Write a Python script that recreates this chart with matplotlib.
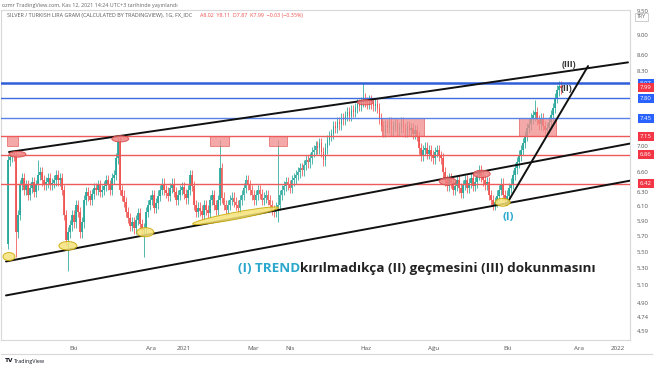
import matplotlib
matplotlib.use("Agg")
import matplotlib.pyplot as plt
import numpy as np
from matplotlib.patches import Rectangle, Ellipse
import matplotlib.transforms as mtransforms
from matplotlib.ticker import NullLocator

# ---------------- data (daily-ish bars, SILVER/TRY gram) ----------------
closes = [
    6.77, 6.82, 6.85, 6.84, 5.75, 5.98, 6.40, 6.50, 6.33, 6.40,
    6.26, 6.36, 6.44, 6.30, 6.40, 6.55, 6.59, 6.47, 6.40, 6.44,
    6.50, 6.40, 6.43, 6.47, 6.55, 6.47, 6.50, 6.33, 5.98, 5.65,
    5.75, 5.84, 5.98, 5.88, 6.12, 6.02, 5.75, 5.88, 6.19, 6.30,
    6.25, 6.19, 6.27, 6.36, 6.33, 6.40, 6.30, 6.33, 6.39, 6.47,
    6.40, 6.33, 6.50, 6.55, 6.80, 7.06, 6.33, 6.25, 6.16, 6.02,
    5.94, 5.83, 5.88, 5.80, 5.91, 6.00, 5.86, 5.78, 5.80, 6.02,
    6.12, 6.19, 6.26, 6.08, 6.14, 6.25, 6.33, 6.42, 6.33, 6.29,
    6.25, 6.36, 6.42, 6.30, 6.19, 6.26, 6.33, 6.37, 6.27, 6.21,
    6.33, 6.55, 6.39, 6.12, 6.02, 6.08, 6.04, 5.98, 6.12, 6.05,
    6.01, 6.19, 6.26, 6.12, 6.05, 6.19, 6.65, 6.22, 6.12, 6.05,
    6.12, 6.19, 6.22, 6.16, 6.12, 6.08, 6.19, 6.26, 6.36, 6.47,
    6.40, 6.33, 6.26, 6.19, 6.26, 6.33, 6.27, 6.19, 6.22, 6.26,
    6.19, 6.12, 6.05, 6.02, 6.08, 6.12, 6.26, 6.33, 6.39, 6.44,
    6.40, 6.36, 6.47, 6.50, 6.55, 6.59, 6.65, 6.62, 6.70, 6.77,
    6.74, 6.80, 6.90, 6.93, 6.99, 6.96, 7.04, 6.90, 6.77, 6.96,
    7.09, 7.16, 7.19, 7.32, 7.29, 7.39, 7.35, 7.45, 7.42, 7.49,
    7.56, 7.49, 7.59, 7.56, 7.63, 7.70, 7.66, 7.73, 7.80, 7.73,
    7.70, 7.76, 7.71, 7.66, 7.70, 7.63, 7.45, 7.32, 7.22, 7.34,
    7.29, 7.39, 7.25, 7.32, 7.35, 7.25, 7.30, 7.39, 7.29, 7.22,
    7.32, 7.25, 7.29, 7.19, 7.25, 7.16, 6.96, 6.85, 6.93, 6.97,
    6.87, 6.93, 6.85, 6.80, 6.90, 6.93, 6.84, 6.80, 6.59, 6.47,
    6.39, 6.50, 6.43, 6.33, 6.39, 6.47, 6.36, 6.29, 6.40, 6.47,
    6.36, 6.43, 6.50, 6.39, 6.44, 6.55, 6.62, 6.53, 6.47, 6.40,
    6.44, 6.26, 6.19, 6.12, 6.16, 6.25, 6.33, 6.42, 6.26, 6.19,
    6.25, 6.36, 6.42, 6.55, 6.65, 6.74, 6.85, 6.93, 7.04, 7.16,
    7.29, 7.35, 7.45, 7.50, 7.56, 7.42, 7.35, 7.45, 7.32, 7.25,
    7.29, 7.39, 7.50, 7.63, 7.80, 7.94, 8.02, 7.99,
]
first_open = 5.60
spike_highs = {3: 6.93, 15: 6.77, 55: 7.13, 106: 7.09, 135: 7.09,
               178: 8.07, 264: 7.76, 277: 8.11}
spike_lows = {4: 5.43, 30: 5.27, 68: 5.43, 135: 5.88, 277: 7.87}

# x tick labels (bar index positions) -- Turkish month abbreviations
tick_pos = [33, 71.5, 88, 123, 141.5, 179, 213, 250, 286, 305.5]
tick_lbl = ["Eki", "Ara", "2021", "Mar", "Nis", "Haz", "Ağu", "Eki", "Ara", "2022"]

# right price scale
price_ticks = [9.50, 9.00, 8.60, 8.30, 7.00, 6.60, 6.30, 6.10, 5.90, 5.70,
               5.50, 5.30, 5.10, 4.90, 4.74, 4.59]
blue_levels = [8.07, 7.80, 7.45]
red_levels = [7.15, 6.86, 6.42]
last_price = 7.99

# drawings (bar index, price)
trend_lines = [
    [(0.5, 6.90), (310.5, 8.46)],     # upper channel
    [(-1.0, 5.38), (312.5, 7.04)],    # middle channel
    [(-1.0, 4.98), (312.5, 6.47)],    # lower channel
    [(249.5, 6.12), (290.5, 8.39)],   # steep trend (I) -> (III)
]
zones = [(-0.5, 5.0, 7.00, 7.15), (101.0, 110.5, 7.00, 7.15),
         (130.5, 139.5, 7.00, 7.15), (187.5, 208.5, 7.15, 7.45),
         (256.0, 274.5, 7.15, 7.45)]
red_marks = [(0.5, 9.0, 6.82, 6.91), (52.0, 60.5, 7.06, 7.16),
             (175.0, 183.0, 7.68, 7.77), (216.0, 224.5, 6.40, 6.51),
             (233.0, 241.5, 6.51, 6.62)]
yellow_marks = [(-2.5, 3.5, 5.39, 5.49), (25.5, 34.5, 5.52, 5.63),
                (64.5, 73.0, 5.69, 5.81), (244.0, 251.5, 6.10, 6.21)]
yellow_tilted = [(92.5, 5.86), (135.5, 6.08)]

# ---------------- figure ----------------
W, H = 654, 366
fig = plt.figure(figsize=(W / 100, H / 100), dpi=100)
fig.patch.set_facecolor("white")
ax = fig.add_axes([1 / W, (H - 340) / H, 629 / W, 330 / H])
ax.set_yscale("log")
ax.set_ylim(4.50, 9.53)
ax.set_xlim(-3.5, 311.5)

GREEN = "#26a69a"
RED = "#ef5350"

n = len(closes)
idx = np.arange(n)
opens = [first_open] + closes[:-1]
o = np.array(opens)
c = np.array(closes)
hi = np.maximum(o, c) * 1.012
lo = np.minimum(o, c) * 0.988
for k, v in spike_highs.items():
    hi[k] = v
for k, v in spike_lows.items():
    lo[k] = v
cols = np.where(c >= o, GREEN, RED)
ax.vlines(idx, lo, hi, colors=cols, linewidth=0.7, alpha=0.8, zorder=2)
body_lo = np.minimum(o, c)
body_h = np.maximum(np.abs(c - o), 0.006)
ax.bar(idx, body_h, bottom=body_lo, width=0.85, color=cols, alpha=0.9,
       linewidth=0, zorder=2)

# horizontal levels
ax.axhline(blue_levels[0], color="#2f5fd8", lw=1.8, zorder=3)
ax.axhline(blue_levels[1], color="#3d6be0", lw=1.0, zorder=3)
ax.axhline(blue_levels[2], color="#5a82e6", lw=1.0, zorder=3)
for lv in red_levels:
    ax.axhline(lv, color="#ee5a5a", lw=1.0, zorder=3)

# zones
for x0, x1, p0, p1 in zones:
    ax.add_patch(Rectangle((x0, p0), x1 - x0, p1 - p0, facecolor="#f28b8b",
                           edgecolor="#e05555", lw=0.6, alpha=0.75, zorder=2.5))

# trend lines
for (xa, pa), (xb, pb) in trend_lines:
    ax.plot([xa, xb], [pa, pb], color="#111111", lw=1.4, zorder=4,
            solid_capstyle="round")

# ellipses drawn in display space from data boxes
def ellipse_box(x0, x1, p0, p1, fc, ec):
    (dx0, dy0) = ax.transData.transform((x0, p0))
    (dx1, dy1) = ax.transData.transform((x1, p1))
    e = Ellipse(((dx0 + dx1) / 2, (dy0 + dy1) / 2), abs(dx1 - dx0),
                abs(dy1 - dy0), transform=mtransforms.IdentityTransform(),
                facecolor=fc, edgecolor=ec, lw=0.7, alpha=0.85, zorder=5)
    ax.add_patch(e)

for b in red_marks:
    ellipse_box(*b, fc="#f08080", ec="#d84848")
for b in yellow_marks:
    ellipse_box(*b, fc="#f5e27a", ec="#c8a800")

(ta, tb) = [ax.transData.transform(p) for p in yellow_tilted]
cx, cy = (ta + tb) / 2
length = np.hypot(*(tb - ta))
ang = np.degrees(np.arctan2(tb[1] - ta[1], tb[0] - ta[0]))
ax.add_patch(Ellipse((cx, cy), length, 7, angle=ang,
                     transform=mtransforms.IdentityTransform(),
                     facecolor="#f5e27a", edgecolor="#c8a800", lw=0.7,
                     alpha=0.85, zorder=5))

# wave labels
ax.text(281, 8.42, "(III)", fontsize=6.5, color="#333333", ha="center",
        va="center", family="Open Sans", fontweight="bold", zorder=6)
ax.text(279.5, 7.97, "(II)", fontsize=6.5, color="#333333", ha="center",
        va="center", family="Open Sans", fontweight="bold", zorder=6)
ax.text(250.3, 5.95, "(I)", fontsize=8, color="#2aa7cc", ha="center",
        va="center", family="Open Sans", fontweight="bold", zorder=6)

t1 = ax.text(115, 5.30, "(I) TREND", fontsize=9.7, color="#2aa7cc",
             ha="left", va="center", family="Open Sans", fontweight="bold",
             zorder=6)
ax.annotate("kırılmadıkça (II) geçmesini (III) dokunmasını", xy=(1, 0),
            xycoords=t1, ha="left", va="bottom", fontsize=9.7,
            color="#222222", family="Open Sans", fontweight="bold",
            zorder=6)

# axes styling
for s in ax.spines.values():
    s.set_color("#d8d8d8")
    s.set_linewidth(0.8)
ax.yaxis.tick_right()
ax.set_yticks(price_ticks)
ax.set_yticklabels([f"{v:.2f}" for v in price_ticks])
ax.yaxis.set_minor_locator(NullLocator())
ax.tick_params(axis="y", length=0, pad=5, labelsize=4.3, labelcolor="#555555")
ax.set_xticks(tick_pos)
ax.set_xticklabels(tick_lbl)
ax.xaxis.set_minor_locator(NullLocator())
ax.tick_params(axis="x", length=0, pad=4, labelsize=4.5, labelcolor="#555555")
for lab in ax.get_xticklabels() + ax.get_yticklabels():
    lab.set_family("Open Sans")

# price-scale labels
ytrans = mtransforms.blended_transform_factory(ax.transAxes, ax.transData)
box_labels = [(8.07, "#2962ff"), (last_price, "#f23645"), (7.80, "#2962ff"),
              (7.45, "#2962ff"), (7.15, "#f23645"), (6.86, "#f23645"),
              (6.42, "#f23645")]
for v, col in box_labels:
    ax.text(1.0 + 10 / 629, v, f"{v:.2f}", transform=ytrans, fontsize=4.3,
            color="white", ha="left", va="center", family="Open Sans",
            clip_on=False, zorder=10,
            bbox=dict(boxstyle="square,pad=0.35", fc=col, ec="none"))

fig.text(637 / W, 1 - 17 / H, "TRY", fontsize=3.8, color="#666666",
         ha="left", va="center", family="Open Sans",
         bbox=dict(boxstyle="square,pad=0.3", fc="white", ec="#bbbbbb", lw=0.5))

# header texts
fig.text(2 / W, 1 - 5 / H,
         "ozmr TradingView.com, Kas 12, 2021 14:24 UTC+3 tarihinde yayınlandı",
         fontsize=3.9, color="#666666", ha="left", va="center",
         family="Open Sans")
fig.text(7 / W, 1 - 16 / H,
         "SILVER / TURKISH LIRA GRAM (CALCULATED BY TRADINGVIEW), 1G, FX_IDC",
         fontsize=3.9, color="#555555", ha="left", va="center",
         family="Open Sans")
fig.text(200 / W, 1 - 16 / H,
         "A8.02  Y8.11  D7.87  K7.99  −0.03 (−0.35%)",
         fontsize=3.9, color="#ef5350", ha="left", va="center",
         family="Open Sans")

# outer frame line under dates and footer logo
fig.add_artist(plt.Line2D([1 / W, 652 / W], [1 - 354 / H, 1 - 354 / H],
                          color="#d8d8d8", lw=0.8))
fig.text(5 / W, 1 - 361 / H, "TV", fontsize=4.2, color="#131722",
         fontweight="bold", ha="left", va="center", family="DejaVu Sans")
fig.text(14 / W, 1 - 361 / H, "TradingView", fontsize=3.9, color="#131722",
         ha="left", va="center", family="Open Sans")

fig.savefig("out.png", dpi=100)
